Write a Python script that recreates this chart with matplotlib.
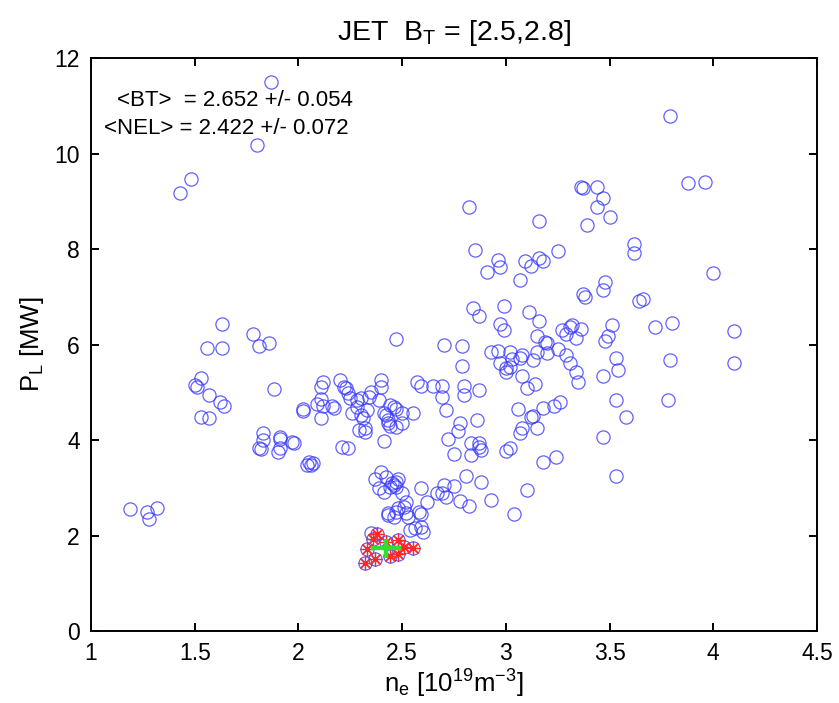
import numpy as np
import matplotlib
matplotlib.use("Agg")
import matplotlib.pyplot as plt

plt.rcParams.update({
    "font.family": ["Liberation Sans", "DejaVu Sans"],
    "mathtext.fontset": "custom",
    "mathtext.rm": "Liberation Sans",
    "mathtext.it": "Liberation Sans:italic",
    "mathtext.default": "regular",
    "axes.linewidth": 1.4,
})

# all discharges in the B_T window: (n_e [1e19 m^-3], P_L [MW])
ne_all = [
    1.87, 1.80, 1.48, 1.43, 1.63, 1.56, 1.63, 1.78, 1.81, 1.86, 2.47,
    1.53, 1.50, 1.51, 1.57, 1.62, 1.64, 1.53, 1.57, 1.88,
    1.83, 1.83, 1.81, 1.82, 1.91, 1.91, 1.90, 1.91, 1.97, 1.98,
    2.02, 2.02, 2.05, 2.07, 2.06, 2.04,
    2.12, 2.11, 2.11, 2.09, 2.12, 2.11, 2.16, 2.17,
    2.20, 2.22, 2.23, 2.24, 2.25, 2.28, 2.30, 2.28, 2.26, 2.35, 2.34, 2.39,
    2.40, 2.40, 2.31, 2.29, 2.32, 2.32, 2.21, 2.24, 2.33, 2.30,
    2.44, 2.46, 2.41, 2.42, 2.43, 2.43, 2.44, 2.47, 2.50, 2.55, 2.50, 2.47, 2.41,
    2.57, 2.59, 2.65,
    1.19, 1.27, 1.28, 1.32,
    2.40, 2.37, 2.42, 2.45, 2.47, 2.46, 2.47, 2.44, 2.48, 2.41, 2.39,
    2.50, 2.52, 2.51, 2.59, 2.62, 2.67,
    2.43, 2.43, 2.47, 2.46, 2.48, 2.52, 2.53, 2.58, 2.59,
    2.54, 2.56, 2.59, 2.60, 2.35,
    2.82, 3.16, 3.36, 3.37, 3.44, 3.47, 3.44, 3.50, 3.39, 3.79, 3.88, 3.96,
    2.85, 2.96, 2.97, 2.91, 3.09, 3.12, 3.16, 3.18, 3.25, 3.07, 3.62, 3.62, 4.00,
    3.48, 3.47, 3.37, 3.38, 3.64, 3.66,
    2.84, 2.87, 2.99, 2.97, 2.99, 3.11, 3.16, 3.72, 3.80, 4.10,
    3.51, 3.49, 3.48, 3.15, 3.19, 3.20, 3.27, 3.29, 3.31, 3.32, 3.36, 3.34,
    3.20, 3.25, 3.29, 3.31, 3.34, 3.35, 3.13, 3.15, 3.08, 3.10, 3.14,
    2.93, 2.96, 3.02, 3.08, 3.07, 3.03, 2.97, 3.00, 3.02, 3.00,
    3.47, 3.53, 3.54, 3.79, 4.10,
    2.70, 2.79, 2.79, 2.69, 2.69, 2.80, 2.80, 2.87, 2.71, 2.78, 2.77, 2.86, 2.72,
    2.83, 2.87, 2.88, 2.87, 2.75, 2.83,
    3.06, 3.13, 3.12, 3.18, 3.23, 3.26, 3.08, 3.07, 3.15, 3.00, 3.02, 3.18, 3.24,
    3.47, 3.53, 3.58, 3.78,
    3.53, 2.81, 2.88, 3.10, 2.70, 2.75, 2.69, 2.71, 2.78, 2.82, 2.93, 3.04,
]
pl_all = [
    11.50, 10.17, 9.46, 9.18, 6.42, 5.92, 5.92, 6.23, 5.96, 6.03, 6.11,
    5.29, 5.15, 5.10, 4.94, 4.79, 4.71, 4.48, 4.46, 5.07,
    4.14, 4.00, 3.83, 3.81, 4.06, 4.03, 3.74, 3.83, 3.95, 3.93,
    4.64, 4.60, 3.54, 3.51, 3.47, 3.47,
    5.21, 5.10, 4.85, 4.75, 4.72, 4.47, 4.72, 4.68,
    5.25, 5.10, 5.08, 4.98, 4.87, 4.83, 4.87, 4.69, 4.56, 5.00, 4.90, 4.83,
    5.25, 5.10, 4.46, 4.21, 4.25, 4.16, 3.85, 3.83, 4.62, 4.52,
    4.73, 4.69, 4.56, 4.52, 4.41, 4.35, 4.29, 4.64, 4.56, 4.56, 4.35, 4.27, 3.97,
    5.21, 5.13, 5.13,
    2.55, 2.49, 2.34, 2.57,
    3.33, 3.18, 3.22, 3.10, 3.12, 3.05, 3.01, 3.01, 3.18, 2.91, 2.99,
    2.89, 2.70, 2.59, 2.99, 2.70, 2.89,
    2.47, 2.42, 2.49, 2.38, 2.57, 2.47, 2.38, 2.49, 2.45,
    2.11, 2.15, 2.18, 2.07, 2.05,
    8.87, 8.58, 9.29, 9.27, 9.29, 9.06, 8.87, 8.68, 8.51, 10.79, 9.39, 9.41,
    7.97, 7.78, 7.62, 7.51, 7.74, 7.64, 7.82, 7.74, 7.95, 7.36, 8.10, 7.91, 7.49,
    7.30, 7.15, 7.05, 6.99, 6.92, 6.95,
    6.76, 6.59, 6.80, 6.42, 6.30, 6.69, 6.50, 6.37, 6.45, 6.28,
    6.40, 6.17, 6.07, 6.17, 6.05, 6.03, 6.30, 6.23, 6.36, 6.40, 6.32, 6.13,
    5.82, 5.90, 5.79, 5.61, 5.42, 5.21, 5.67, 5.84, 5.33, 5.08, 5.17,
    5.84, 5.86, 5.84, 5.77, 5.71, 5.69, 5.61, 5.50, 5.52, 5.42,
    5.33, 5.71, 5.46, 5.67, 5.61,
    5.98, 5.96, 5.54, 5.13, 4.90, 5.13, 4.94, 5.04, 4.62, 4.35, 4.18, 4.41, 4.02,
    3.93, 3.93, 3.79, 3.85, 3.70, 3.68,
    4.64, 4.50, 4.48, 4.67, 4.71, 4.79, 4.25, 4.14, 4.25, 3.77, 3.83, 3.54, 3.64,
    4.06, 4.83, 4.48, 4.83,
    3.25, 3.24, 3.12, 2.95, 3.05, 3.03, 2.89, 2.80, 2.72, 2.62, 2.74, 2.45,
]

# L-H transition points selected in the window (red stars)
ne_sel = [2.32, 2.37, 2.33, 2.38, 2.36, 2.44, 2.48, 2.48, 2.51, 2.55, 2.42]
pl_sel = [1.42, 1.50, 1.72, 2.03, 1.92, 1.58, 1.62, 1.91, 1.76, 1.74, 1.86]

# mean and spread of the selection (green cross)
ne_mean, ne_std = 2.422, 0.072
pl_mean, pl_std = 1.73, 0.20

bt_text = "<BT>  = 2.652 +/- 0.054"
nel_text = "<NEL> = 2.422 +/- 0.072"

fig = plt.figure(figsize=(8.39, 7.03), dpi=100)
ax = fig.add_axes([0.1085, 0.1024, 0.8653, 0.8151])

ax.plot(ne_all + ne_sel, pl_all + pl_sel, linestyle="none", marker="o",
        markersize=9.5, markerfacecolor="none", markeredgecolor="#3a3aff",
        markeredgewidth=0.9, alpha=0.8)
ax.plot(ne_sel, pl_sel, linestyle="none", marker=(8, 2, 0), markersize=10,
        color="#ff2828", markeredgewidth=0.9)
ax.errorbar([ne_mean], [pl_mean], xerr=[ne_std], yerr=[pl_std], fmt="none",
            ecolor="#33dd33", elinewidth=3.2, capsize=0, zorder=5)

ax.set_xlim(1, 4.5)
ax.set_ylim(0, 12)
ax.set_xticks(np.arange(1, 4.51, 0.5))
ax.set_xticklabels(["1", "1.5", "2", "2.5", "3", "3.5", "4", "4.5"])
ax.set_yticks(np.arange(0, 12.1, 2))
ax.tick_params(direction="in", length=6, width=1.4, top=True, right=True,
               labelsize=16.5, pad=8)

ax.set_xlabel(r"n$_e$ [10$^{19}$m$^{-3}$]", fontsize=18.5, labelpad=2)
ax.set_ylabel(r"P$_L$ [MW]", fontsize=18.5, labelpad=6)
ax.set_title(r"JET  B$_T$ = [2.5,2.8]", fontsize=20.5, pad=13)

ax.text(1.125, 11.1, bt_text, fontsize=16, va="center", ha="left")
ax.text(1.063, 10.52, nel_text, fontsize=16, va="center", ha="left")

fig.savefig("out.png", dpi=100)
